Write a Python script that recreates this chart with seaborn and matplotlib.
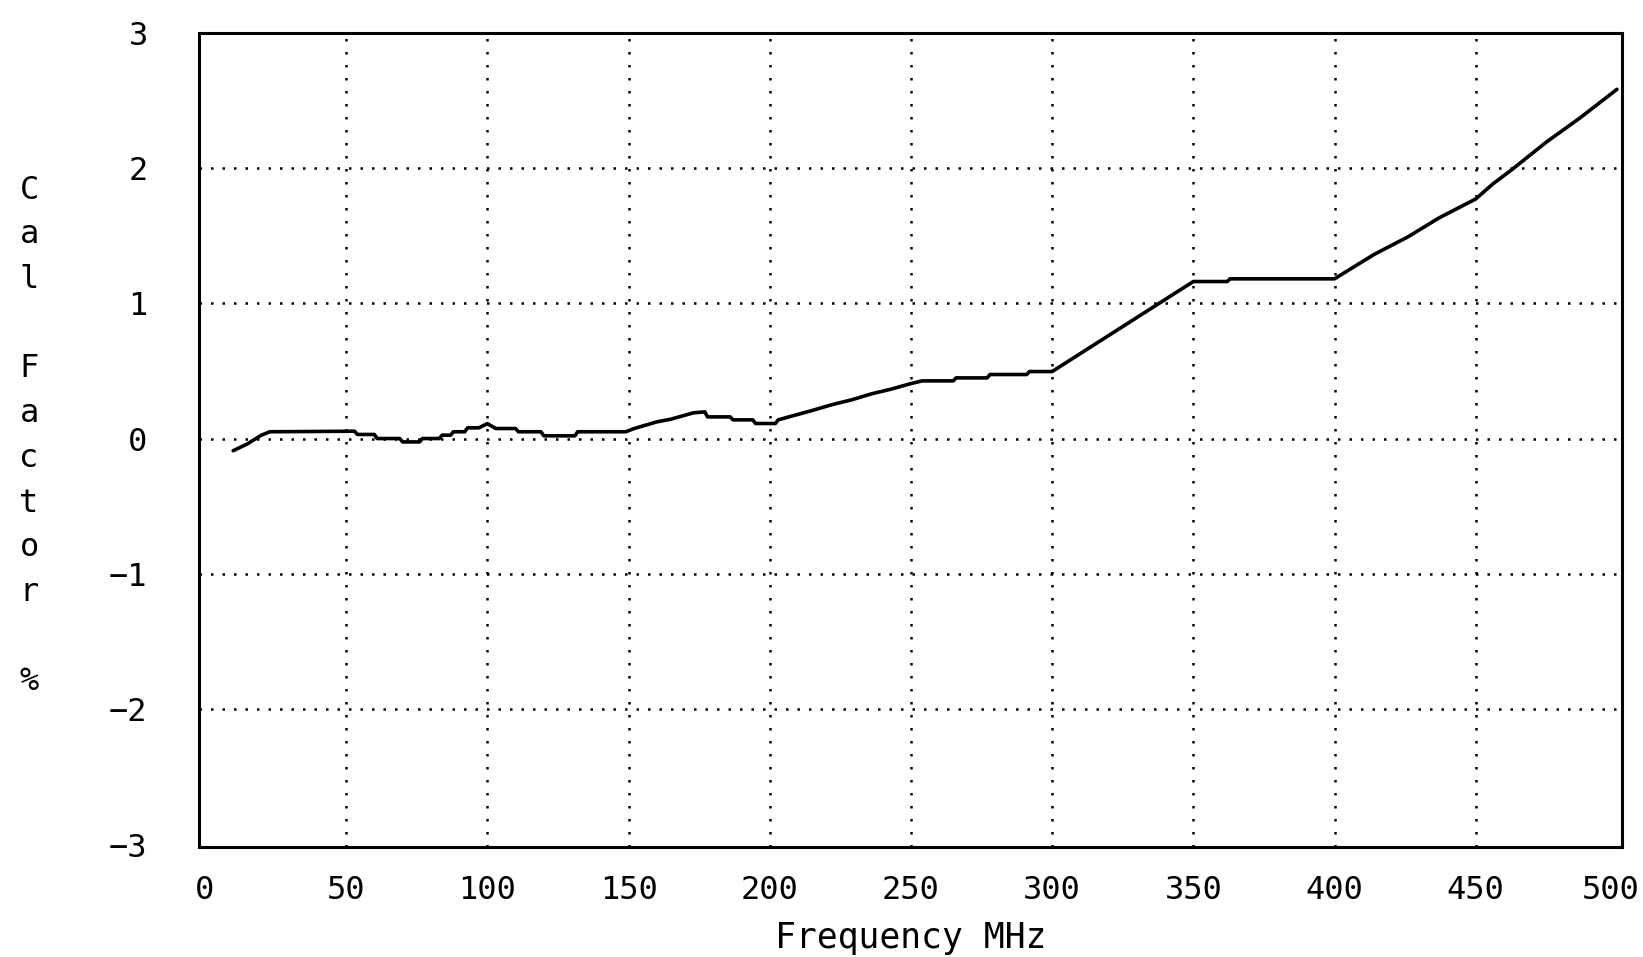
"""Cal factor vs frequency, redrawn from a scanned plotter chart."""
import matplotlib
matplotlib.use("Agg")
import matplotlib.pyplot as plt
import matplotlib.transforms as mtransforms
import seaborn as sns

# values (MHz, %)
freq = [10, 15, 20, 23, 53, 54, 60, 61, 69, 70, 76, 77, 83, 84, 87, 88, 92, 93,
        97, 100, 103, 110, 111, 119, 120, 131, 132, 149, 152, 160, 165, 173, 177,
        178, 186, 187, 194, 195, 202, 203, 208, 215, 222, 229, 236, 243, 250, 254,
        265, 266, 277, 278, 291, 292, 300, 350, 362, 363, 400, 414, 426, 437, 450,
        456, 463, 475, 487, 500]
cal = [-0.09, -0.04, 0.025, 0.05, 0.054, 0.03, 0.03, 0.0, 0.0, -0.025, -0.025, 0.0,
       0.0, 0.025, 0.025, 0.05, 0.05, 0.079, 0.079, 0.11, 0.074, 0.074, 0.05, 0.05,
       0.02, 0.02, 0.05, 0.05, 0.074, 0.123, 0.143, 0.19, 0.197, 0.16, 0.16, 0.138,
       0.138, 0.111, 0.111, 0.138, 0.167, 0.207, 0.25, 0.286, 0.33, 0.365, 0.406,
       0.426, 0.426, 0.448, 0.448, 0.473, 0.473, 0.495, 0.495, 1.16, 1.16, 1.18,
       1.18, 1.36, 1.49, 1.63, 1.77, 1.88, 1.99, 2.19, 2.37, 2.58]

x_ticks = list(range(0, 501, 50))
y_ticks = [-3, -2, -1, 0, 1, 2, 3]

sns.set_style("white")
plt.rcParams['font.family'] = ['DejaVu Sans Mono']

fig = plt.figure(figsize=(16.43, 9.57), dpi=100)
ax = fig.add_axes([199 / 1643, 1 - 847 / 957, 1423 / 1643, 814.5 / 957])

sns.lineplot(x=freq, y=cal, color='black', linewidth=2.6, ax=ax)

ax.set_xlim(-2.1, 501.8)
ax.set_ylim(-3.018, 3.0)
ax.set_xticks(x_ticks)
ax.set_yticks(y_ticks)

# dotted grid like the plotter
for v in x_ticks[1:-1]:
    ax.axvline(v, color='black', linewidth=1.8, linestyle=(0, (1, 4.2)), zorder=0)
for v in y_ticks[1:-1]:
    ax.axhline(v, color='black', linewidth=1.8, linestyle=(0, (1, 3.6)), zorder=0)

for side in ['left', 'right', 'top', 'bottom']:
    ax.spines[side].set_color('black')
    ax.spines[side].set_linewidth(2.2)

ax.tick_params(axis='both', which='major', direction='out', length=9, width=1.5,
               color='black', labelcolor='black')
ax.tick_params(axis='y', pad=28, labelsize=23)
ax.tick_params(axis='x', pad=11, labelsize=23)

# nudge the last x label so it stays inside the page
last = ax.xaxis.get_major_ticks()[-1].label1
last.set_transform(last.get_transform() +
                   mtransforms.ScaledTranslation(-6 / 100, 0, fig.dpi_scale_trans))

ax.set_xlabel('Frequency MHz', fontsize=25, color='black', labelpad=11)
ax.set_ylabel('')

# stacked vertical y label
fig.text(29 / 1643, 1 - 436 / 957, 'C\na\nl\n\nF\na\nc\nt\no\nr\n\n%',
         ha='center', va='center', fontsize=23, linespacing=1.57, color='black')

fig.savefig('out.png', dpi=100)
